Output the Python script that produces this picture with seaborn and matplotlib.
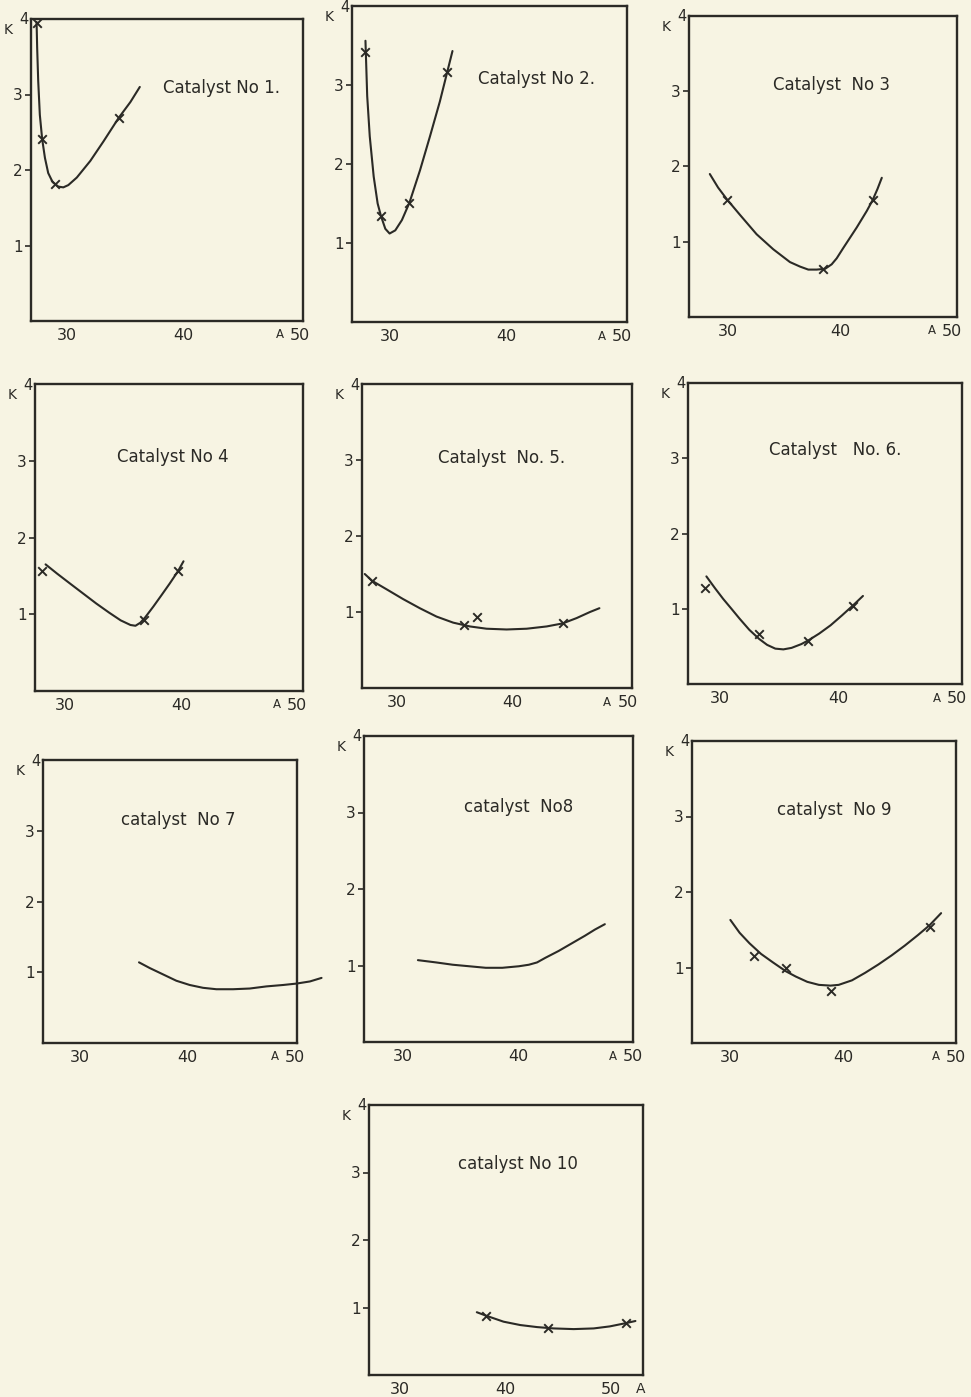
import matplotlib
matplotlib.use("Agg")
import matplotlib.pyplot as plt
import seaborn as sns

sns.set_style("white")
plt.rcParams["font.family"] = ["DejaVu Sans"]

PAPER = "#f7f4e3"
INK = "#2b2a26"

# ---- data: A (x) versus K (y) for the ten catalysts ----
titles = ["Catalyst No 1.", "Catalyst No 2.", "Catalyst  No 3", "Catalyst No 4",
          "Catalyst  No. 5.", "Catalyst   No. 6.", "catalyst  No 7", "catalyst  No8",
          "catalyst  No 9", "catalyst No 10"]

x_ticks = [30, 40, 50]
y_ticks = [1, 2, 3]
y_tick_labels = ["1", "2", "3"]

# fitted curves
c1_A = [27.38, 27.43, 27.52, 27.66, 27.86, 28.10, 28.38, 28.76, 29.25, 29.68, 30.11,
        30.84, 32.00, 33.14, 34.44, 35.45, 36.26]
c1_K = [3.96, 3.62, 3.18, 2.73, 2.41, 2.16, 1.96, 1.84, 1.78, 1.77, 1.80,
        1.90, 2.12, 2.38, 2.69, 2.90, 3.10]
c2_A = [27.86, 28.01, 28.23, 28.57, 28.91, 29.20, 29.57, 29.94, 30.43, 31.00, 31.65,
        32.56, 33.42, 34.27, 34.90, 35.36]
c2_K = [3.56, 2.86, 2.35, 1.84, 1.50, 1.34, 1.18, 1.12, 1.16, 1.29, 1.51,
        1.92, 2.35, 2.79, 3.16, 3.43]
c3_A = [28.36, 29.10, 29.91, 31.04, 32.54, 34.03, 35.52, 36.42, 37.16, 37.91, 38.66,
        39.25, 39.70, 40.30, 41.49, 42.39, 42.90, 43.34, 43.73]
c3_K = [1.90, 1.72, 1.56, 1.36, 1.10, 0.90, 0.73, 0.67, 0.63, 0.63, 0.64,
        0.70, 0.78, 0.92, 1.19, 1.41, 1.55, 1.70, 1.85]
c4_A = [28.31, 29.30, 30.42, 31.55, 32.68, 33.80, 34.79, 35.63, 36.06, 36.48, 36.90,
        37.60, 38.31, 39.01, 39.72, 40.20]
c4_K = [1.65, 1.53, 1.40, 1.27, 1.14, 1.02, 0.92, 0.86, 0.85, 0.89, 0.96,
        1.10, 1.25, 1.40, 1.56, 1.69]
c5_A = [27.19, 27.83, 29.07, 30.52, 31.97, 33.42, 34.87, 36.32, 37.77, 39.51, 41.25,
        42.99, 44.38, 45.59, 46.75, 47.57]
c5_K = [1.50, 1.41, 1.30, 1.17, 1.05, 0.94, 0.86, 0.81, 0.78, 0.77, 0.78,
        0.81, 0.85, 0.92, 1.00, 1.05]
c6_A = [28.85, 29.59, 30.27, 30.96, 31.64, 32.47, 33.29, 33.97, 34.66, 35.34, 36.03,
        36.85, 37.45, 38.36, 39.32, 40.27, 41.18, 42.05]
c6_K = [1.43, 1.27, 1.13, 1.00, 0.87, 0.72, 0.60, 0.52, 0.47, 0.46, 0.48,
        0.53, 0.58, 0.67, 0.78, 0.91, 1.04, 1.17]
c7_A = [35.52, 36.51, 37.75, 38.99, 40.23, 41.47, 42.71, 44.26, 45.81, 47.36, 48.91,
        50.16, 51.40, 52.48]
c7_K = [1.14, 1.06, 0.97, 0.88, 0.82, 0.78, 0.76, 0.76, 0.77, 0.80, 0.82,
        0.84, 0.87, 0.92]
c8_A = [31.29, 32.88, 34.32, 35.76, 37.19, 38.63, 40.07, 40.94, 41.65, 42.37, 43.53,
        44.68, 45.83, 46.69, 47.55]
c8_K = [1.07, 1.04, 1.01, 0.99, 0.97, 0.97, 0.99, 1.01, 1.04, 1.10, 1.19,
        1.29, 1.39, 1.47, 1.54]
c9_A = [30.00, 30.82, 31.70, 32.72, 33.75, 34.92, 35.80, 36.82, 37.85, 38.87, 39.60,
        40.78, 41.95, 43.12, 44.29, 45.46, 46.63, 47.66, 48.68]
c9_K = [1.63, 1.46, 1.32, 1.18, 1.07, 0.95, 0.88, 0.81, 0.77, 0.76, 0.77,
        0.83, 0.93, 1.04, 1.16, 1.29, 1.43, 1.56, 1.72]
c10_A = [37.30, 38.16, 39.84, 41.43, 43.02, 44.60, 46.51, 48.41, 49.94, 51.52, 52.38]
c10_K = [0.93, 0.88, 0.79, 0.74, 0.71, 0.69, 0.68, 0.69, 0.72, 0.77, 0.80]

# measured points
m1_A = [27.43, 27.86, 28.96, 34.44]
m1_K = [3.95, 2.41, 1.81, 2.69]
m2_A = [27.86, 29.20, 31.65, 34.90]
m2_K = [3.42, 1.34, 1.51, 3.16]
m3_A = [29.91, 38.51, 42.90]
m3_K = [1.56, 0.64, 1.55]
m4_A = [28.03, 36.76, 39.72]
m4_K = [1.57, 0.93, 1.56]
m5_A = [27.83, 35.80, 36.90, 44.38]
m5_K = [1.41, 0.83, 0.93, 0.85]
m6_A = [28.77, 33.29, 37.45, 41.18]
m6_K = [1.28, 0.67, 0.57, 1.04]
m7_A = []
m7_K = []
m8_A = []
m8_K = []
m9_A = [32.10, 34.90, 38.90, 47.70]
m9_K = [1.15, 1.00, 0.69, 1.53]
m10_A = [38.16, 44.05, 51.52]
m10_K = [0.88, 0.70, 0.77]

curves = [(c1_A, c1_K), (c2_A, c2_K), (c3_A, c3_K), (c4_A, c4_K), (c5_A, c5_K),
          (c6_A, c6_K), (c7_A, c7_K), (c8_A, c8_K), (c9_A, c9_K), (c10_A, c10_K)]
points = [(m1_A, m1_K), (m2_A, m2_K), (m3_A, m3_K), (m4_A, m4_K), (m5_A, m5_K),
          (m6_A, m6_K), (m7_A, m7_K), (m8_A, m8_K), (m9_A, m9_K), (m10_A, m10_K)]

# ---- layout (pixel boxes: left, top, right, bottom) ----
W, H = 971, 1397
boxes = [(31, 19, 303, 321), (352, 6, 627, 322), (689, 16, 957, 317),
         (35, 384, 303, 691), (362, 384, 632, 688), (688, 383, 962, 684),
         (43, 760, 297, 1043), (364, 736, 633, 1042), (692, 741, 956, 1043),
         (369, 1105, 643, 1375)]
xlims = [(26.9, 50.3), (26.7, 50.4), (26.5, 50.45), (27.4, 50.5), (26.95, 50.4),
         (27.3, 50.4), (26.6, 50.2), (26.6, 49.8), (26.6, 49.8), (27.05, 53.1)]
title_pos = [(0.70, 0.77), (0.67, 0.77), (0.53, 0.77), (0.516, 0.763), (0.517, 0.756),
             (0.536, 0.777), (0.533, 0.788), (0.574, 0.769), (0.54, 0.77), (0.545, 0.78)]

fig = plt.figure(figsize=(W / 100, H / 100), dpi=100)
fig.patch.set_facecolor(PAPER)

for i in range(10):
    l, t, r, b = boxes[i]
    ax = fig.add_axes([l / W, 1 - b / H, (r - l) / W, (b - t) / H])
    ax.set_facecolor(PAPER)
    cA, cK = curves[i]
    sns.lineplot(x=cA, y=cK, ax=ax, color=INK, linewidth=1.5, sort=False,
                 estimator=None, clip_on=(i != 6), solid_joinstyle="round",
                 solid_capstyle="round")
    mA, mK = points[i]
    if mA:
        sns.scatterplot(x=mA, y=mK, ax=ax, marker="x", s=38, color=INK,
                        linewidth=1.4, zorder=3)
    ax.set_xlim(*xlims[i])
    ax.set_ylim(0, 4)
    ax.set_xticks(x_ticks)
    ax.set_xticklabels([str(v) for v in x_ticks])
    ax.set_yticks(y_ticks)
    ax.set_yticklabels(y_tick_labels)
    ax.tick_params(axis="y", direction="out", length=4, width=1.2, color=INK,
                   labelsize=11, labelcolor=INK, pad=2, left=True)
    ax.tick_params(axis="x", length=0, labelsize=11.5, labelcolor=INK, pad=5)
    for s in ax.spines.values():
        s.set_visible(True)
        s.set_color(INK)
        s.set_linewidth(1.7)
    ax.set_xlabel("")
    ax.set_ylabel("")

    # axis names: K with its top value, and A beside the last x value
    ax.annotate("K", xy=(0, 1), xycoords="axes fraction", xytext=(-23, -11),
                textcoords="offset pixels", ha="center", va="center",
                fontsize=10, color=INK)
    ax.annotate("4", xy=(0, 1), xycoords="axes fraction", xytext=(-7, -1),
                textcoords="offset pixels", ha="center", va="center",
                fontsize=10.5, color=INK)
    if i == 9:
        ax.annotate("A", xy=(50, 0), xycoords="data", xytext=(30, -14),
                    textcoords="offset pixels", ha="center", va="center",
                    fontsize=10, color=INK, annotation_clip=False)
    else:
        ax.annotate("A", xy=(50, 0), xycoords="data", xytext=(-20, -14),
                    textcoords="offset pixels", ha="center", va="center",
                    fontsize=8.5, color=INK, annotation_clip=False)

    fx, fy = title_pos[i]
    ax.text(fx, fy, titles[i], transform=ax.transAxes, ha="center", va="center",
            fontsize=12, color=INK)

fig.savefig("out.png", dpi=100, facecolor=PAPER)
